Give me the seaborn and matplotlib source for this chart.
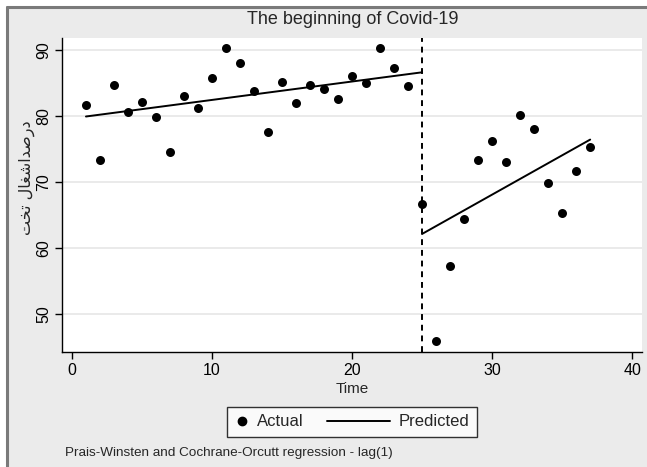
import matplotlib
matplotlib.use("Agg")
import matplotlib.pyplot as plt
import seaborn as sns
import pandas as pd
from matplotlib.patches import Rectangle
from matplotlib.lines import Line2D
from matplotlib.legend_handler import HandlerBase

# ---- data ----
time = list(range(1, 38))
actual = [81.6, 73.3, 84.7, 80.6, 82.1, 79.8, 74.5, 83.0, 81.2, 85.7,
          90.3, 88.0, 83.8, 77.5, 85.2, 81.9, 84.7, 84.1, 82.6, 86.0,
          85.0, 90.3, 87.2, 84.5, 66.7, 45.9, 57.2, 64.4, 73.3, 76.2,
          73.0, 80.2, 78.0, 69.8, 65.3, 71.6, 75.3]
pred_pre_x = [1, 25]
pred_pre_y = [79.9, 86.6]
pred_post_x = [25, 37]
pred_post_y = [62.1, 76.4]
intervention = 25
xticks = [0, 10, 20, 30, 40]
yticks = [50, 60, 70, 80, 90]

title = "The beginning of Covid-19"
xlabel = "Time"
# "درصد اشغال تخت" written in shaped visual order (presentation forms)
ylabel = "\uFE96\uFEA8\uFE97 \uFEDD\uFE8E\uFED0\uFEB7\uFE8D\uFEAA\uFEBB\uFEAD\uFEA9"
note = "Prais-Winsten and Cochrane-Orcutt regression - lag(1)"
legend_labels = ["Actual", "Predicted"]

df = pd.DataFrame({"Time": time, "Actual": actual})
pre = pd.DataFrame({"Time": pred_pre_x, "Pred": pred_pre_y})
post = pd.DataFrame({"Time": pred_post_x, "Pred": pred_post_y})

sns.set_style("white")
plt.rcParams["font.family"] = ["Liberation Sans", "DejaVu Sans"]

W, H = 647, 467
fig = plt.figure(figsize=(W / 100, H / 100), dpi=100, facecolor="white")

# Stata-like outer frame
bg = Rectangle((7 / W, 0), 1 - 7 / W, 1 - 7 / H, transform=fig.transFigure,
               facecolor="#ebebeb", edgecolor="none", zorder=-10)
fig.patches.append(bg)
fig.add_artist(Line2D([7 / W, 7 / W], [0, 1 - 7 / H], transform=fig.transFigure,
                      color="#7a7a7a", lw=2.2))
fig.add_artist(Line2D([7 / W, 1], [1 - 7 / H, 1 - 7 / H], transform=fig.transFigure,
                      color="#7a7a7a", lw=2.2))

ax = fig.add_axes([62 / W, 1 - 352 / H, 580 / W, 314 / H])
ax.set_facecolor("white")

sns.scatterplot(data=df, x="Time", y="Actual", ax=ax, color="black", s=42,
                edgecolor="black", linewidth=0, zorder=3, legend=False)
sns.lineplot(data=pre, x="Time", y="Pred", ax=ax, color="black", lw=1.4, zorder=3,
             legend=False)
sns.lineplot(data=post, x="Time", y="Pred", ax=ax, color="black", lw=1.4, zorder=3,
             legend=False)
ax.axvline(intervention, color="black", ls=(0, (3, 2.5)), lw=1.4, zorder=2)

ax.set_xlim(-0.71, 40.7)
ax.set_ylim(44.2, 91.8)
ax.set_xticks(xticks)
ax.set_yticks(yticks)
ax.grid(axis="y", color="#e6e6e6", lw=1.2)
ax.grid(axis="x", visible=False)
for s in ["top", "right"]:
    ax.spines[s].set_visible(False)
for s in ["left", "bottom"]:
    ax.spines[s].set_color("black")
    ax.spines[s].set_linewidth(1.0)
ax.tick_params(axis="both", direction="out", length=5, width=1, color="black",
               labelsize=11.5, labelcolor="black", pad=3, left=True, bottom=True)
for lab in ax.get_yticklabels():
    lab.set_rotation(90)
    lab.set_va("center")

ax.set_xlabel(xlabel, fontsize=11, labelpad=3)
ax.set_ylabel(ylabel, fontsize=11.5, family=["DejaVu Sans"])
ax.yaxis.set_label_coords(-0.046, 0.555)

fig.text(353 / W, 1 - 19.5 / H, title, ha="center", va="center", fontsize=13)


class LongLineHandler(HandlerBase):
    """Line handle that extends to the left into the column gap (Stata style)."""
    def create_artists(self, legend, orig_handle, xdescent, ydescent, width,
                       height, fontsize, trans):
        y = height / 2 - ydescent
        extra = 2.95 * fontsize
        line = Line2D([-xdescent - extra, -xdescent + width], [y, y],
                      color="black", lw=1.4, transform=trans)
        return [line]


h_actual = Line2D([], [], marker="o", color="black", ls="none", markersize=6)
h_pred = Line2D([], [], color="black", lw=1.4)
leg = fig.legend([h_actual, h_pred], legend_labels, loc="center",
                 bbox_to_anchor=(352 / W, 1 - 422 / H), ncol=2, frameon=True,
                 fancybox=False, edgecolor="black", fontsize=12,
                 handlelength=0.8, columnspacing=4.4, handletextpad=0.5,
                 borderpad=0.45, borderaxespad=0,
                 handler_map={h_pred: LongLineHandler()})
leg.get_frame().set_linewidth(1.0)
leg.get_frame().set_facecolor("white")

fig.text(65 / W, 1 - 453 / H, note, ha="left", va="center", fontsize=9.7)

fig.savefig("out.png", dpi=100, facecolor=fig.get_facecolor())
